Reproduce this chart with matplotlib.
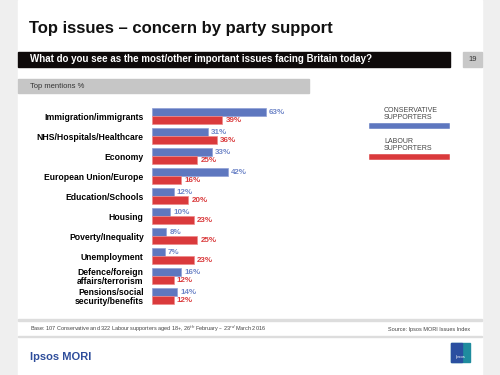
import matplotlib.pyplot as plt
from matplotlib.patches import Rectangle
from matplotlib.lines import Line2D

plt.rcParams['font.family'] = ['Liberation Sans', 'DejaVu Sans']

# data
issues = ['Immigration/immigrants', 'NHS/Hospitals/Healthcare', 'Economy',
          'European Union/Europe', 'Education/Schools', 'Housing',
          'Poverty/Inequality', 'Unemployment', 'Defence/foreign\naffairs/terrorism',
          'Pensions/social\nsecurity/benefits']
conservative = [63, 31, 33, 42, 12, 10, 8, 7, 16, 14]
labour = [39, 36, 25, 16, 20, 23, 25, 23, 12, 12]

blue = '#5E77BF'
red = '#DA3A3C'
blue_txt = '#6F86C8'
red_txt = '#DA3A3C'

W, H = 500, 375
fig = plt.figure(figsize=(5, 3.75), dpi=100, facecolor='#EFEFEF')


def fx(x):
    return x / W


def fy(y):
    return 1 - y / H


def box(x0, y0, x1, y1, color, z=-2):
    fig.patches.append(Rectangle((fx(x0), fy(y1)), (x1 - x0) / W, (y1 - y0) / H,
                                 transform=fig.transFigure, color=color, zorder=z))


# page
box(18, 0, 482, 375, 'white', z=-3)
fig.text(fx(29), fy(28), 'Top issues \u2013 concern by party support', fontsize=12,
         fontweight='bold', va='center', color='#111111')
box(18, 52, 450, 67, '#0E0A0A')
fig.text(fx(30), fy(59.5), 'What do you see as the most/other important issues facing Britain today?',
         fontsize=7, fontweight='bold', color='white', va='center')
box(463, 52, 482, 67, '#C8C8C8')
fig.text(fx(472.5), fy(59.5), '19', fontsize=5.5, color='#333333', ha='center', va='center')
box(18, 79, 309, 93, '#C6C6C6')
fig.text(fx(30), fy(86), 'Top mentions %', fontsize=5.5, color='#333333', va='center')

# chart
ax = fig.add_axes([fx(152), fy(306), (300 - 152) / W, 200 / H])
ax.set_facecolor('none')
ypos = list(range(len(issues)))
bh = 0.4
ax.barh([y - bh / 2 for y in ypos], conservative, height=bh, color=blue, edgecolor='#8FA0D6', linewidth=0.5)
ax.barh([y + bh / 2 for y in ypos], labour, height=bh, color=red, edgecolor='#F08A8A', linewidth=0.5)
for y, c, l in zip(ypos, conservative, labour):
    ax.text(c + 1.8, y - bh / 2, f'{c}%', fontsize=5.8, fontweight='bold', color=blue_txt, va='center')
    ax.text(l + 1.8, y + bh / 2, f'{l}%', fontsize=5.8, fontweight='bold', color=red_txt, va='center')
ax.set_xlim(0, 82)
ax.set_ylim(len(issues) - 0.5, -0.5)
ax.set_yticks(ypos)
ax.set_yticklabels(issues, fontsize=6.2, fontweight='bold', linespacing=1.0)
ax.tick_params(axis='y', length=0, pad=6)
ax.set_xticks([])
for s in ax.spines.values():
    s.set_visible(False)

# legend
fig.lines.append(Line2D([fx(372), fx(447)], [fy(126), fy(126)], transform=fig.transFigure,
                        color=blue, linewidth=4))
fig.lines.append(Line2D([fx(372), fx(447)], [fy(157), fy(157)], transform=fig.transFigure,
                        color=red, linewidth=4))
fig.text(fx(384), fy(114), 'CONSERVATIVE\nSUPPORTERS', fontsize=5, color='#444444',
         va='center', linespacing=1.0)
fig.text(fx(384), fy(145), 'LABOUR\nSUPPORTERS', fontsize=5, color='#444444',
         va='center', linespacing=1.0)

# footer
box(18, 319, 482, 321, '#DDDDDD')
box(18, 336, 482, 337, '#DDDDDD')
fig.text(fx(30), fy(329), 'Base: 107 Conservative and 322 Labour supporters aged 18+, 26$^{th}$ February \u2013 23$^{rd}$ March 2016',
         fontsize=4, color='#444444', va='center')
fig.text(fx(470), fy(329), 'Source: Ipsos MORI Issues Index', fontsize=4, color='#444444',
         va='center', ha='right')
fig.text(fx(30), fy(357), 'Ipsos MORI', fontsize=8, fontweight='bold', color='#2E4D9B', va='center')
box(451, 343, 470, 362, '#1F8C9E')
box(451, 343, 462, 362, '#2A4FA0')
fig.text(fx(460.5), fy(357), 'Ipsos', fontsize=3, color='white', ha='center', va='center')

fig.savefig('out.png', dpi=100, facecolor=fig.get_facecolor())
